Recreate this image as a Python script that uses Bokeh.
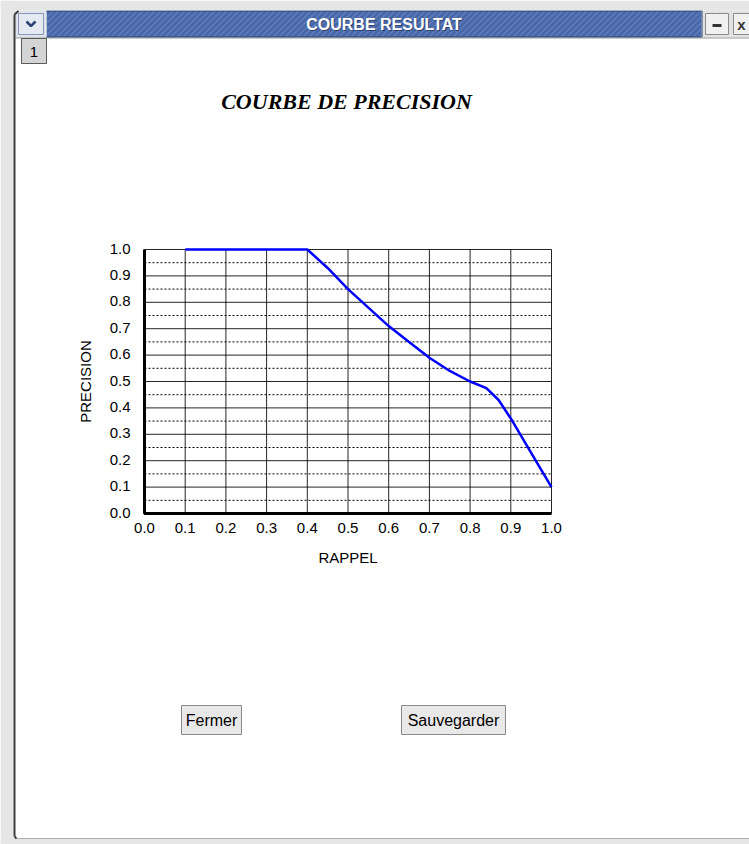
from bokeh.plotting import figure
from bokeh.models import Range1d
from bokeh.core.properties import value
from bokeh.embed import file_html
from bokeh.resources import INLINE
import math

# precision / recall curve
recall = [0.1, 0.2, 0.3, 0.4, 0.45, 0.5, 0.55, 0.6, 0.65, 0.7, 0.75, 0.8,
          0.84, 0.87, 0.9, 0.95, 1.0]
precision = [1.0, 1.0, 1.0, 1.0, 0.93, 0.85, 0.78, 0.71, 0.65, 0.59, 0.54,
             0.50, 0.475, 0.43, 0.36, 0.23, 0.10]

major_ticks = [round(i / 10, 1) for i in range(11)]
minor_ticks = [round(0.05 + i / 10, 2) for i in range(10)]
tick_labels = ["%.1f" % t for t in major_ticks]

W, H = 749, 844
# chart area inside the window (canvas pixels)
CL, CR, CT, CB = 144, 551, 249, 513

SANS = value("Liberation Sans")
SERIF = value("Liberation Serif")

# the frame covers the whole window; the default ranges are window pixels
# (y downwards), the extra ranges are the 0..1 recall/precision scales
p = figure(width=W, height=H,
           x_range=Range1d(0, W), y_range=Range1d(H, 0),
           x_axis_type=None, y_axis_type=None,
           min_border_left=0, min_border_right=0,
           min_border_top=0, min_border_bottom=0,
           output_backend="svg", toolbar_location=None)
p.outline_line_color = None
p.background_fill_color = "white"
p.border_fill_color = "white"
sx_per = CR - CL
sy_per = CB - CT
p.extra_x_ranges = {"rappel": Range1d(-CL / sx_per, (W - CL) / sx_per)}
p.extra_y_ranges = {"prec": Range1d(-(H - CB) / sy_per, 1 + CT / sy_per)}
XY = dict(x_range_name="rappel", y_range_name="prec")

# ---------------- window chrome ----------------
BG = "#e6e6e6"
BLUE = "#4867a6"

# title bar with diagonal stripes
p.quad(left=[46], right=[701], top=[10], bottom=[37], fill_color=BLUE, line_color=None)
stripe_xs, stripe_ys = [], []
x0 = 46
while x0 < 740:
    stripe_xs.append([x0, x0 + 2, x0 + 2 - 27, x0 - 27])
    stripe_ys.append([10, 10, 37, 37])
    x0 += 6
p.patches(stripe_xs, stripe_ys, fill_color="#6d89c3", fill_alpha=0.7, line_color=None)

# light areas holding the title bar buttons (also trim the stripes)
p.quad(left=[13], right=[46], top=[10], bottom=[37], fill_color="#dfe3ea", line_color=None)
p.quad(left=[701], right=[W], top=[10], bottom=[37], fill_color="#e2e2e2", line_color=None)
p.segment(x0=[46], y0=[10.5], x1=[701], y1=[10.5], line_color="#2c4272", line_width=1)
p.segment(x0=[46], y0=[36.5], x1=[701], y1=[36.5], line_color="#2c4272", line_width=1)
p.segment(x0=[701.5], y0=[10], x1=[701.5], y1=[37], line_color="#2c4272", line_width=1)
p.segment(x0=[15], y0=[37.5], x1=[W], y1=[37.5], line_color="#9a9a9a", line_width=1)

# desktop around the window
p.quad(left=[0], right=[W], top=[0], bottom=[10], fill_color=BG, line_color=None)
p.quad(left=[0], right=[13], top=[0], bottom=[H], fill_color=BG, line_color=None)
p.quad(left=[0], right=[W], top=[838], bottom=[H], fill_color=BG, line_color=None)
p.segment(x0=[14], y0=[14], x1=[14], y1=[836], line_color="#3c3c3c", line_width=2)
p.segment(x0=[16], y0=[838], x1=[W], y1=[838], line_color="#b0b0b0", line_width=1)
p.segment(x0=[14], y0=[14], x1=[18], y1=[10.5], line_color="#3c3c3c", line_width=2)
p.segment(x0=[14], y0=[836], x1=[16], y1=[838], line_color="#3c3c3c", line_width=2)

# title bar buttons
p.quad(left=[18], right=[43], top=[13], bottom=[34], fill_color="#e4e9f2",
       line_color="#8797b5", line_width=1)
p.quad(left=[705], right=[728], top=[13], bottom=[34], fill_color="#f0f0f0",
       line_color="#8a8a8a", line_width=1)
p.quad(left=[733], right=[760], top=[13], bottom=[34], fill_color="#f0f0f0",
       line_color="#8a8a8a", line_width=1)
p.line(x=[26, 30.5, 35], y=[21, 25.5, 21], line_color="#2c4272", line_width=2.5)
p.segment(x0=[712], y0=[25], x1=[721], y1=[25], line_color="#333333", line_width=3)
p.text(x=[741], y=[24], text=["x"], text_font=SANS, text_font_size="15px",
       text_font_style="bold", text_color="#333333", text_align="center",
       text_baseline="middle")
# window title with a soft dark shadow
p.text(x=[384.5], y=[24.5], text=["COURBE RESULTAT"], text_font=SANS,
       text_font_size="16px", text_font_style="bold", text_color="#1e2f55",
       text_alpha=0.7, text_align="center", text_baseline="middle")
p.text(x=[383.5], y=[23.5], text=["COURBE RESULTAT"], text_font=SANS,
       text_font_size="16px", text_font_style="bold", text_color="white",
       text_align="center", text_baseline="middle")

# tab "1"
p.quad(left=[21], right=[46], top=[38], bottom=[63], fill_color="#d4d4d4",
       line_color="#5a5a5a", line_width=1)
p.text(x=[33.5], y=[51], text=["1"], text_font=SANS, text_font_size="15px",
       text_color="black", text_align="center", text_baseline="middle")

# chart title
p.text(x=[346], y=[101], text=["COURBE DE PRECISION"], text_font=SERIF,
       text_font_size="22px", text_font_style="bold italic", text_color="black",
       text_align="center", text_baseline="middle")

# buttons
p.quad(left=[181, 401], right=[241, 505], top=[705, 705], bottom=[734, 734],
       fill_color="#e8e8e8", line_color="#8a8a8a", line_width=1)
p.text(x=[211, 453], y=[720, 720], text=["Fermer", "Sauvegarder"], text_font=SANS,
       text_font_size="16px", text_color="black", text_align="center",
       text_baseline="middle")

# ---------------- precision chart ----------------
zeros = [0.0] * len(major_ticks)
ones = [1.0] * len(major_ticks)
# vertical grid lines at each recall tick
p.segment(x0=major_ticks, y0=zeros, x1=major_ticks, y1=ones,
          line_color="black", line_width=1, line_alpha=0.85, **XY)
# horizontal grid lines at each precision tick
p.segment(x0=zeros, y0=major_ticks, x1=ones, y1=major_ticks,
          line_color="black", line_width=1, line_alpha=0.85, **XY)
# dotted lines half way between
p.segment(x0=[0.0] * len(minor_ticks), y0=minor_ticks,
          x1=[1.0] * len(minor_ticks), y1=minor_ticks,
          line_color="black", line_width=1, line_dash="2 2", **XY)
# heavy axis lines
p.line(x=[0, 0, 1], y=[1, 0, 0], line_color="black", line_width=3, **XY)

# curve
p.line(recall, precision, line_color="#0000ff", line_width=2.5, **XY)

# tick labels
p.text(x=major_ticks, y=zeros, text=tick_labels, text_font=SANS,
       text_font_size="15px", text_color="black", text_align="center",
       text_baseline="top", y_offset=9, **XY)
p.text(x=zeros, y=major_ticks, text=tick_labels, text_font=SANS,
       text_font_size="15px", text_color="black", text_align="right",
       text_baseline="middle", x_offset=-14, y_offset=-1, **XY)

# axis titles
p.text(x=[0.5], y=[0.0], text=["RAPPEL"], text_font=SANS, text_font_size="15px",
       text_color="black", text_align="center", text_baseline="middle",
       y_offset=44, **XY)
p.text(x=[0.0], y=[0.5], text=["PRECISION"], text_font=SANS, text_font_size="15px",
       text_color="black", text_align="center", text_baseline="middle",
       angle=math.pi / 2, x_offset=-59, **XY)

open("out.html", "w").write(file_html(p, INLINE))
